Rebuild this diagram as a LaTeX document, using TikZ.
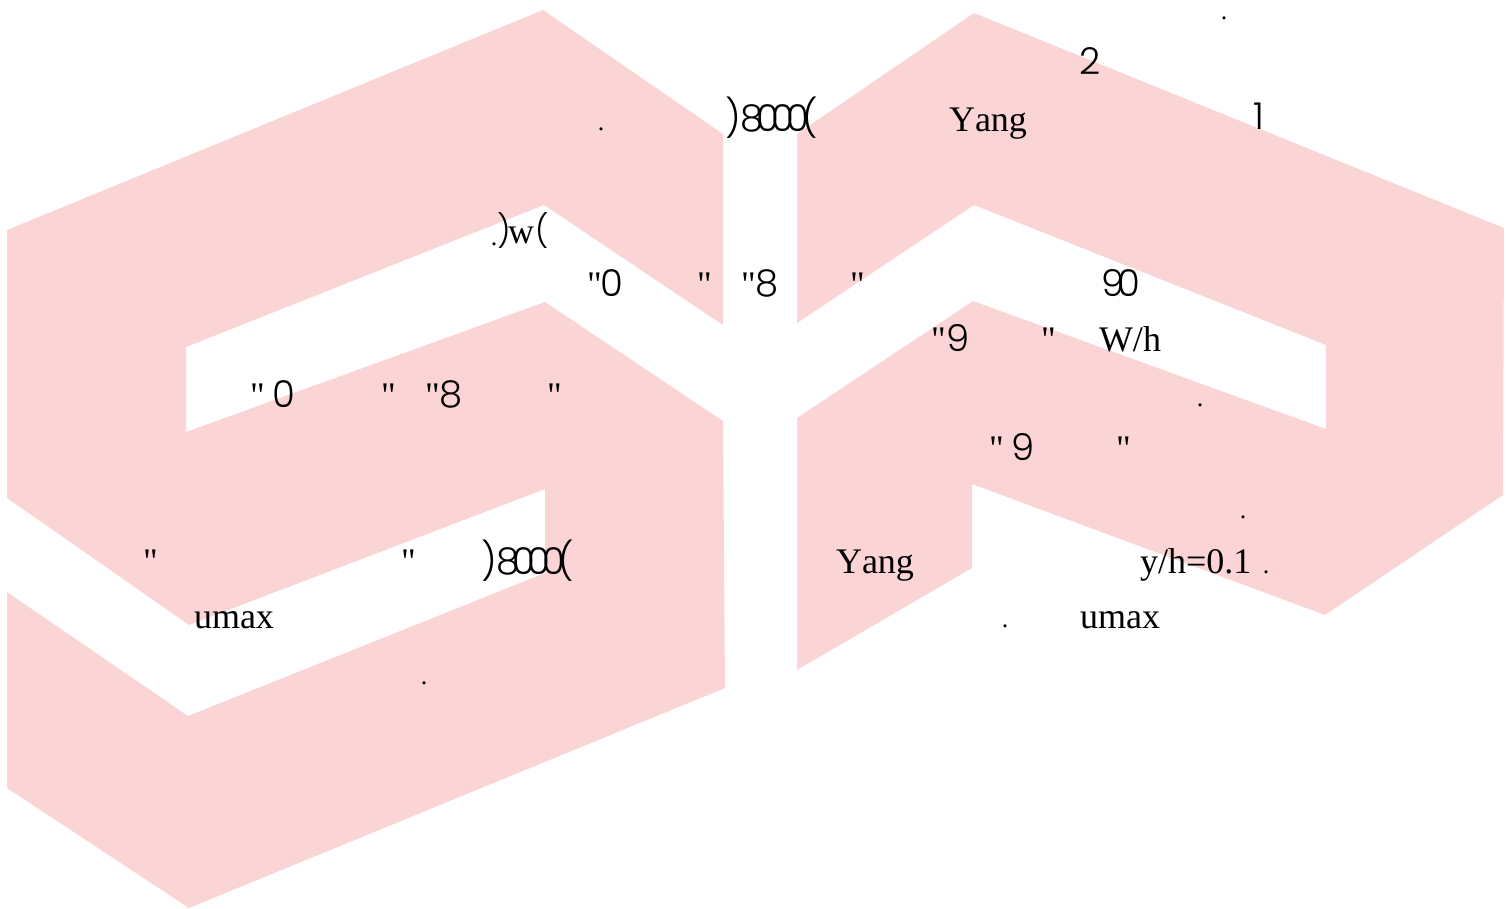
\documentclass[tikz,border=0pt]{standalone}
\usepackage{fontspec}
\setmainfont[Kerning=Off]{Liberation Serif}
\newfontfamily\thinfont{Poppins Light}
\newfontfamily\quotefont{Liberation Serif}
\definecolor{shapepink}{HTML}{FBD4D5}
\newcommand{\sq}{{\quotefont\char34}}
\tikzset{
  x=1pt,y=-1pt,
  blade/.style={fill=shapepink,draw=none},
  ser/.style={anchor=base west,inner sep=0,outer sep=0,font=\fontsize{36}{36}\selectfont},
  thn/.style={anchor=base west,inner sep=0,outer sep=0,font=\thinfont\fontsize{37}{37}\selectfont},
  ths/.style={anchor=base west,inner sep=0,outer sep=0,font=\thinfont\fontsize{32}{32}\selectfont},
  dotm/.style={anchor=base,inner sep=0,outer sep=0,font=\fontsize{26}{26}\selectfont},
}
\begin{document}
\begin{tikzpicture}
\useasboundingbox (0,0) rectangle (1510,908);
\fill[blade] (543,10)--(723,134)--(723,325)--(544,205)--(186,347)--(186,432)--(545,302)--(723,421)--(725,688)--(189,908)--(7,788)--(7,592)--(188,716)--(545,573)--(545,489)--(189,625)--(7,498)--(7,230)--cycle;
\fill[blade] (974,13)--(1504,228)--(1503,495)--(1325,615)--(972,484)--(972,568)--(797,670)--(797,418)--(973,301)--(1326,429)--(1326,345)--(974,205)--(797,323)--(797,134)--cycle;
% top row
\node[thn] (p1) at (725,131) {)8\kern-7.5pt 0\kern-7.5pt 0\kern-7.5pt 0\kern-7.5pt (};
\node[ser] (y1) at (949,131) {Yang};
\node[thn] (n2) at (1079,74) {2};
\node[thn] (n1) at (1253,129) {1};
\node[dotm] (d1) at (1224,19) {.};
\node[dotm] (d2) at (601,130) {.};
% w
\node[dotm] (d3) at (494,245) {.};
\node[ths] (wl) at (497,242) {)};
\node[ser] (w) at (508,243) {w};
\node[ths] (wr) at (535,242) {(};
% row 296
\node[ser] (q1) at (587,296) {\sq};
\node[thn] (n0a) at (600,296) {0};
\node[ser] (q2) at (697,296) {\sq};
\node[ser] (q3) at (741,296) {\sq};
\node[thn] (n8a) at (755,296) {8};
\node[ser] (q4) at (850,296) {\sq};
\node[thn] (n90) at (1101,296) {9\kern-7pt 0};
% row 351
\node[ser] (q5) at (931,351) {\sq};
\node[thn] (n9a) at (946,351) {9};
\node[ser] (q6) at (1041,351) {\sq};
\node[ser] (wh) at (1099,351) {W/h};
% row 407
\node[ser] (q7) at (250,407) {\sq};
\node[thn] (n0b) at (272,407) {0};
\node[ser] (q8) at (381,407) {\sq};
\node[ser] (q9) at (425,407) {\sq};
\node[thn] (n8b) at (439,407) {8};
\node[ser] (q10) at (547,407) {\sq};
\node[dotm] (d4) at (1200,406) {.};
% row 460
\node[ser] (q11) at (989,460) {\sq};
\node[thn] (n9b) at (1011,460) {9};
\node[ser] (q12) at (1116,460) {\sq};
\node[dotm] (d5) at (1243,518) {.};
% row 573
\node[ser] (q13) at (143,573) {\sq};
\node[ser] (q14) at (401,573) {\sq};
\node[thn] (p2) at (481,574) {)8\kern-7.5pt 0\kern-7.5pt 0\kern-7.5pt 0\kern-7.5pt (};
\node[ser] (y2) at (836,573) {Yang};
\node[ser] (yh) at (1140,573) {y/h=0.1};
\node[dotm] (d6) at (1266,573) {.};
% row 628
\node[ser] (u1) at (194,628) {umax};
\node[ser] (u2) at (1080,628) {umax};
\node[dotm] (d7) at (1005,627) {.};
\node[dotm] (d8) at (424,684) {.};
\end{tikzpicture}
\end{document}
